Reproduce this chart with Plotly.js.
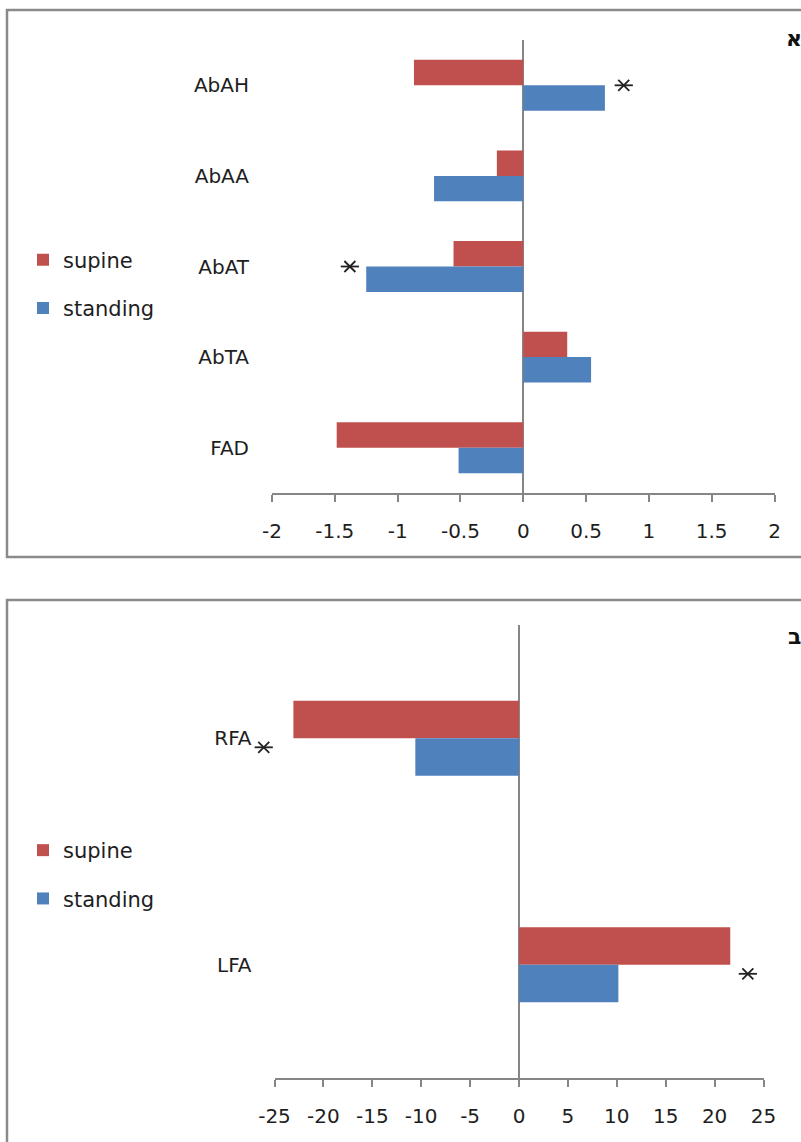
<!DOCTYPE html>
<html>
<head>
<meta charset="utf-8">
<script src="https://cdn.plot.ly/plotly-3.0.1.min.js"></script>
<style>html,body{margin:0;padding:0;background:#fff;}#chart{width:801px;height:1142px;}</style>
</head>
<body>
<div id="chart"></div>
<script>
// ---- data ----
const categories1 = ['AbAH', 'AbAA', 'AbAT', 'AbTA', 'FAD'];
const supine1 = [-0.87, -0.21, -0.555, 0.35, -1.485];
const standing1 = [0.65, -0.71, -1.25, 0.54, -0.515];
const starCats1 = ['AbAH', 'AbAT'];
const starX1 = [0.8, -1.38];
const tickVals1 = [-2, -1.5, -1, -0.5, 0, 0.5, 1, 1.5, 2];
const tickText1 = ['-2', '-1.5', '-1', '-0.5', '0', '0.5', '1', '1.5', '2'];

const categories2 = ['RFA', 'LFA'];
const supine2 = [-23.07, 21.6];
const standing2 = [-10.6, 10.16];
const starCats2 = ['RFA', 'LFA'];
const starX2 = [-26.1, 23.4];
const tickVals2 = [-25, -20, -15, -10, -5, 0, 5, 10, 15, 20, 25];
const tickText2 = ['-25', '-20', '-15', '-10', '-5', '0', '5', '10', '15', '20', '25'];

const seriesNames = ['supine', 'standing'];
const panelLabels = ['א', 'ב'];

// ---- style ----
const W = 801, H = 1142;
const RED = '#C0504D', BLUE = '#4F81BD', AX = '#868686', TXT = '#1e1e1e';
const FONT = 'DejaVu Sans';
const px = v => v / W;
const py = v => 1 - v / H;
const w1 = 0.281, w2 = 0.166;

// panel geometry (pixels)
const P1 = {l: 272, r: 774.5, t: 40, b: 493};
const P2 = {l: 274.5, r: 763.5, t: 625, b: 1078};
const range2 = [-25, 25];
// hidden companion axes for panel 2 with the same scale, extended to the left so the star
// outside the visible range can still be placed through an axis
const ext2 = 5;
const scale2 = (P2.r - P2.l) / (range2[1] - range2[0]);
const starDrop2 = 0.04; // small downward nudge of the star row (category units)

function bars(x, y, name, color, off, w, xa, ya, lg, grp) {
  return {
    type: 'bar', orientation: 'h', x: x, y: y, name: name,
    marker: {color: color, line: {width: 0}},
    offset: off, width: w, xaxis: xa, yaxis: ya,
    legend: lg, legendgroup: grp, hoverinfo: 'x+y'
  };
}
function stars(x, y, xa, ya, sym, size) {
  return {
    type: 'scatter', mode: 'markers', x: x, y: y, xaxis: xa, yaxis: ya,
    marker: {symbol: sym, size: size, color: '#222', line: {color: '#222', width: 1.8}},
    cliponaxis: false, showlegend: false, hoverinfo: 'skip'
  };
}

const data = [
  bars(supine1, categories1, seriesNames[0], RED, -w1, w1, 'x', 'y', 'legend', 'a1'),
  bars(standing1, categories1, seriesNames[1], BLUE, 0, w1, 'x', 'y', 'legend', 'b1'),
  bars(supine2, categories2, seriesNames[0], RED, -w2, w2, 'x2', 'y2', 'legend2', 'a2'),
  bars(standing2, categories2, seriesNames[1], BLUE, 0, w2, 'x2', 'y2', 'legend2', 'b2'),
  stars(starX1, starCats1, 'x', 'y', 'x-thin-open', 11),
  stars(starX1, starCats1, 'x', 'y', 'line-ew-open', 13),
  stars(starX2, starCats2, 'x3', 'y3', 'x-thin-open', 11),
  stars(starX2, starCats2, 'x3', 'y3', 'line-ew-open', 13)
];

function xAxis(dom, anchor, range, tv, tt) {
  return {
    domain: dom, anchor: anchor, range: range, tickmode: 'array', tickvals: tv, ticktext: tt,
    showgrid: false, zeroline: true, zerolinecolor: AX, zerolinewidth: 2,
    showline: true, linecolor: AX, linewidth: 2, ticks: 'outside', ticklen: 7, tickwidth: 2, tickcolor: AX,
    ticklabelstandoff: 12, tickfont: {family: FONT, size: 20, color: TXT}, fixedrange: true
  };
}
function yAxis(dom, anchor, cats) {
  return {
    domain: dom, anchor: anchor, type: 'category', categoryorder: 'array', categoryarray: cats,
    range: [cats.length - 0.5, -0.5], showgrid: false, zeroline: false, showline: false, ticks: '',
    ticklabelstandoff: 22, tickfont: {family: FONT, size: 20, color: TXT}, fixedrange: true
  };
}
function legend(yc) {
  return {
    x: px(23), xanchor: 'left', y: yc, yanchor: 'middle', traceorder: 'grouped', tracegroupgap: 18,
    font: {family: FONT, size: 21, color: TXT}, bgcolor: 'rgba(0,0,0,0)', borderwidth: 0
  };
}

const yaxis3 = yAxis([py(P2.b), py(P2.t)], 'x3', categories2);
yaxis3.visible = false;
yaxis3.range = [categories2.length - 0.5 - starDrop2, -0.5 - starDrop2];

const layout = {
  width: W, height: H, margin: {l: 0, r: 0, t: 0, b: 0},
  paper_bgcolor: '#fff', plot_bgcolor: 'rgba(0,0,0,0)',
  barmode: 'overlay', showlegend: true,
  xaxis: xAxis([px(P1.l), px(P1.r)], 'y', [-2, 2], tickVals1, tickText1),
  yaxis: yAxis([py(P1.b), py(P1.t)], 'x', categories1),
  xaxis2: xAxis([px(P2.l), px(P2.r)], 'y2', range2, tickVals2, tickText2),
  yaxis2: yAxis([py(P2.b), py(P2.t)], 'x2', categories2),
  xaxis3: {domain: [px(P2.l - ext2 * scale2), px(P2.r)], anchor: 'y3',
           range: [range2[0] - ext2, range2[1]], visible: false, fixedrange: true},
  yaxis3: yaxis3,
  legend: legend(py(284)),
  legend2: legend(py(874.5)),
  shapes: [
    {type: 'rect', xref: 'paper', yref: 'paper', x0: px(7), x1: 1.05, y0: py(557), y1: py(10),
     line: {color: '#8a8a8a', width: 2.5}, fillcolor: 'rgba(0,0,0,0)', layer: 'below'},
    {type: 'rect', xref: 'paper', yref: 'paper', x0: px(7), x1: 1.05, y0: -0.05, y1: py(600),
     line: {color: '#8a8a8a', width: 2.5}, fillcolor: 'rgba(0,0,0,0)', layer: 'below'}
  ],
  annotations: [
    {xref: 'paper', yref: 'paper', x: px(794), y: py(39), text: panelLabels[0], showarrow: false,
     xanchor: 'center', yanchor: 'middle', font: {family: FONT, size: 22, color: '#111', weight: 'bold'}},
    {xref: 'paper', yref: 'paper', x: px(794), y: py(636), text: panelLabels[1], showarrow: false,
     xanchor: 'center', yanchor: 'middle', font: {family: FONT, size: 22, color: '#111', weight: 'bold'}}
  ]
};

Plotly.newPlot('chart', data, layout, {displayModeBar: false, staticPlot: true});
</script>
</body>
</html>
